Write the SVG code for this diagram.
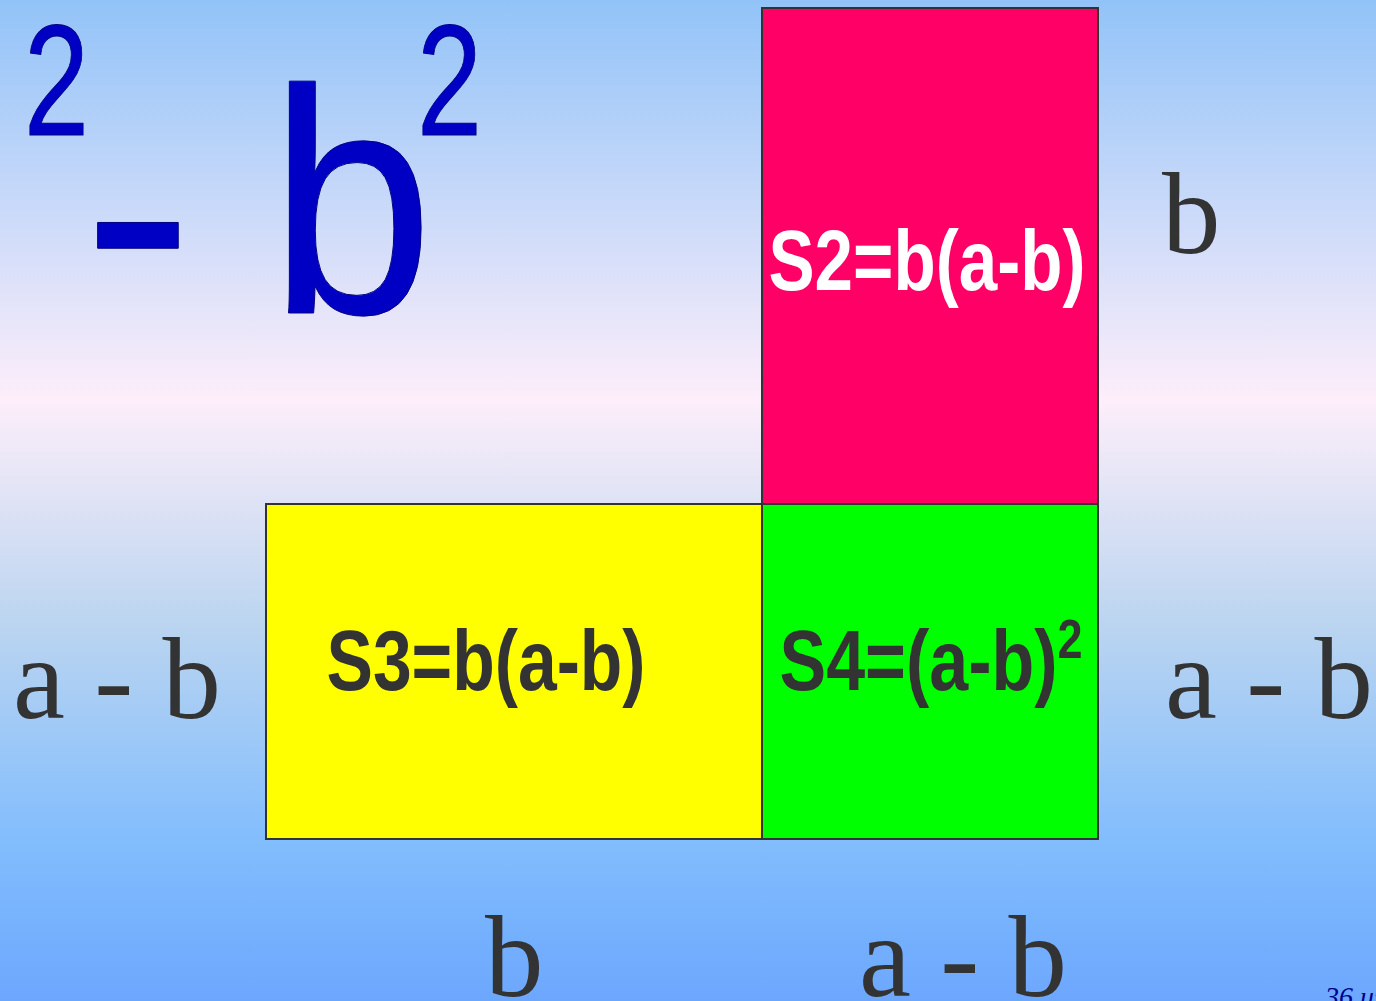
<svg xmlns="http://www.w3.org/2000/svg" width="1376" height="1001" viewBox="0 0 1376 1001">
<defs>
<linearGradient id="bg" x1="0" y1="0" x2="0" y2="1">
<stop offset="0" stop-color="#92c3f8"/>
<stop offset="0.4" stop-color="#fdeefa"/>
<stop offset="0.62" stop-color="#bcd5f0"/>
<stop offset="0.84" stop-color="#82bdfd"/>
<stop offset="1" stop-color="#6ca7fe"/>
</linearGradient>
<style>
.box{stroke:#333333;stroke-width:2}
.area{font-family:"Liberation Sans",Arial,sans-serif;font-weight:bold;font-size:86px}
.sup{font-family:"Liberation Sans",Arial,sans-serif;font-weight:bold;font-size:56px;fill:#333333}
.dim{font-family:"Liberation Serif","Times New Roman",serif;font-size:117px;fill:#333333}
.formula{font-family:"Liberation Sans",Arial,sans-serif;fill:#0000c4;stroke:#000080;stroke-width:1}
</style>
</defs>
<rect x="0" y="0" width="1376" height="1001" fill="url(#bg)"/>
<g id="formula">
<text class="formula" x="24" y="135" font-size="157" textLength="65" lengthAdjust="spacingAndGlyphs">2</text>
<text class="formula" x="83" y="323" font-size="330">-</text>
<text class="formula" x="269.5" y="313" font-size="320" textLength="164" lengthAdjust="spacingAndGlyphs">b</text>
<text class="formula" x="417" y="135" font-size="157" textLength="65" lengthAdjust="spacingAndGlyphs">2</text>
</g>
<g id="s2">
<rect class="box" x="762" y="8" width="336" height="496" fill="#ff0066"/>
<text class="area" x="768.5" y="290" fill="#ffffff" textLength="317" lengthAdjust="spacingAndGlyphs">S2=b(a-b)</text>
</g>
<g id="s3">
<rect class="box" x="266" y="504" width="496" height="335" fill="#ffff00"/>
<text class="area" x="326.5" y="690" fill="#333333" textLength="319" lengthAdjust="spacingAndGlyphs">S3=b(a-b)</text>
</g>
<g id="s4">
<rect class="box" x="762" y="504" width="336" height="335" fill="#00ff00"/>
<text class="area" x="779.5" y="690" fill="#333333" textLength="278" lengthAdjust="spacingAndGlyphs">S4=(a-b)</text>
<text class="sup" x="1057.5" y="658" textLength="25" lengthAdjust="spacingAndGlyphs">2</text>
</g>
<g id="labels">
<text class="dim" x="1162" y="253">b</text>
<text class="dim" x="13" y="718">a - b</text>
<text class="dim" x="1165" y="718">a - b</text>
<text class="dim" x="485" y="996">b</text>
<text class="dim" x="859" y="996">a - b</text>
</g>
<g id="connectors"></g>
<text x="1325" y="1006" font-family="Liberation Serif,serif" font-style="italic" font-size="28" fill="#000090">36 из</text>
</svg>
